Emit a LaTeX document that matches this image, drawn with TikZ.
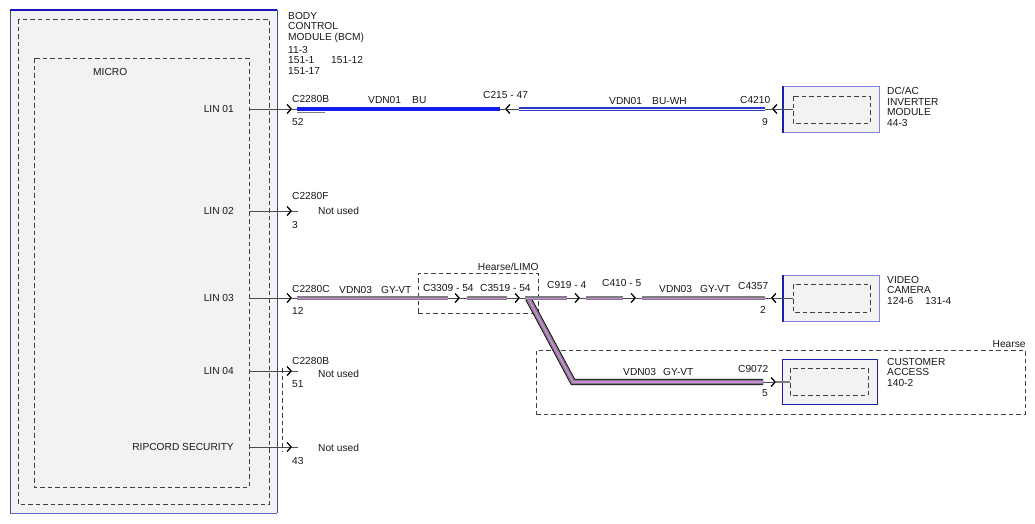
\documentclass[tikz,border=0pt]{standalone}
\usepackage{fontspec}
\setmainfont{Liberation Sans}
\usetikzlibrary{arrows.meta,positioning}
\definecolor{wireblue}{RGB}{20,30,235}
\definecolor{buwhblue}{RGB}{40,60,200}
\definecolor{wiregray}{RGB}{125,125,125}
\definecolor{wirevt}{RGB}{205,135,225}
\definecolor{boxfill}{RGB}{242,242,242}
\definecolor{edgeblue}{RGB}{130,130,225}
\definecolor{darkblue}{RGB}{30,30,170}

\begin{document}
\begin{tikzpicture}[x=1pt,y=-1pt,
  font=\fontsize{10.2}{10.6}\selectfont,
  txt/.style={inner sep=0pt,anchor=west,text=black!90},
  pinline/.style={draw=black!70,line width=0.7pt},
  conn/.style={pinline,-{Straight Barb[length=4pt,width=9pt,line width=1.3pt,color=black]}},
  bu/.style={draw=wireblue,line width=4pt},
  buwh/.style={draw=buwhblue,line width=1.8pt,double=white,double distance=0.8pt},
  gyvt/.style={draw=wiregray,line width=2pt,double=wirevt,double distance=0.8pt},
  dbox/.style={draw=black!75,dash pattern=on 4.5pt off 3pt,line width=0.75pt},
  modbox/.style={draw=edgeblue,fill=boxfill,line width=0.8pt,anchor=north west}]
  \useasboundingbox (0,0) rectangle (1035,523);
  \fill[white] (0,0) rectangle (1035,523);

  % body control module
  \node[fill=boxfill,minimum width=267,minimum height=503,anchor=north west,inner sep=0pt] (bcm) at (10,10) {};
  \draw[draw=black!45!edgeblue,line width=0.6pt] (bcm.north west) -- (bcm.south west) (bcm.north east) -- (bcm.south east);
  \draw[draw=darkblue!80!blue,line width=1.6pt] (bcm.north west) -- (bcm.north east);
  \draw[draw=edgeblue!70!darkblue,line width=1.6pt] (bcm.south west) -- (bcm.south east);
  \draw[dbox] (18,19) rectangle (269,504);
  \draw[dbox] (34,58) rectangle (249,487);
  \node[txt] (micro) at (93,72) {MICRO};
  \node[txt,anchor=north west,align=left] (bcmname) at (288,12) {BODY\\CONTROL\\MODULE (BCM)};
  \node[txt,below=3pt of bcmname.south west,anchor=north west,align=left] (bcmref) {11-3\\\makebox[43pt][l]{151-1}151-12\\151-17};

  % pins
  \foreach \name/\txt/\y in {lin01/LIN 01/109,lin02/LIN 02/211,lin03/LIN 03/298,lin04/LIN 04/371,rip/RIPCORD SECURITY/447}{
    \node[txt,anchor=east] (\name) at (234,\y) {\txt};
    \coordinate (\name p) at (249,\y);
    \coordinate (\name c) at (292,\y);
    \coordinate (\name s) at (298,\y);
    \draw[conn] (\name p) -- (\name c);
    \draw[pinline] (\name c) -- (\name s);
  }
  \draw[dbox] (282,368) -- (282,451);

  % LIN 01 to inverter
  \node[modbox,minimum width=96,minimum height=46] (inv) at (783,86) {};
  \draw[draw=darkblue,line width=1.6pt] (inv.north west) -- (inv.south west);
  \draw[dbox] (793,96) rectangle (870,123);
  \node[txt,anchor=north west,align=left] (invname) at (887,87) {DC/AC\\INVERTER\\MODULE\\44-3};
  \coordinate (bu1) at (297,109);
  \coordinate (bu2) at (500,109);
  \coordinate (c215) at (505,109);
  \coordinate (bw1) at (519,109);
  \coordinate (bw2) at (765,109);
  \coordinate (c4210) at (772,109);
  \coordinate (invin) at (793,109);
  \draw[bu] (bu1) -- (bu2);
  \draw[draw=wiregray,line width=1.2pt] (297,112.5) -- (325,112.5);
  \draw[pinline] (bu2) -- (c215);
  \draw[conn] (bw1) -- (c215);
  \draw[buwh] (bw1) -- (bw2);
  \draw[pinline] (bw2) -- (c4210);
  \draw[conn] (invin) -- (c4210);
  \node[txt] at (292,99) {C2280B};
  \node[txt] at (292,122) {52};
  \node[txt] at (368,100) {VDN01};
  \node[txt] at (412,100) {BU};
  \node[txt] at (483,95) {C215 - 47};
  \node[txt] at (609,101) {VDN01};
  \node[txt] at (652,101) {BU-WH};
  \node[txt] at (740,100) {C4210};
  \node[txt] at (762,122) {9};

  % LIN 02
  \node[txt] at (292,196) {C2280F};
  \node[txt] at (318,211) {Not used};
  \node[txt] at (292,225) {3};

  % LIN 03 to camera and customer access
  \node[dbox,minimum width=120,minimum height=40,anchor=north west] (limo) at (418,273) {};
  \node[txt,anchor=south east] at ([yshift=2pt]limo.north east) {Hearse/LIMO};
  \node[dbox,minimum width=489,minimum height=64,anchor=north west] (hearse) at (536,350) {};
  \node[txt,anchor=south east] at ([yshift=2pt]hearse.north east) {Hearse};
  \node[modbox,minimum width=96,minimum height=46] (cam) at (783,275) {};
  \draw[draw=darkblue,line width=1.6pt] (cam.north west) -- (cam.south west);
  \draw[dbox] (793,284) rectangle (870,312);
  \node[txt,anchor=north west,align=left] (camname) at (887,276) {VIDEO\\CAMERA\\\makebox[38pt][l]{124-6}131-4};
  \node[modbox,draw=darkblue,minimum width=95,minimum height=45] (cust) at (782,359) {};
  \draw[dbox] (790,368) rectangle (868,395);
  \node[txt,anchor=north west,align=left] (custname) at (887,358) {CUSTOMER\\ACCESS\\140-2};

  \coordinate (g1) at (297,298);
  \coordinate (g2) at (448,298);
  \coordinate (c3309) at (460,298);
  \coordinate (g3) at (467,298);
  \coordinate (g4) at (507,298);
  \coordinate (c3519) at (520,298);
  \coordinate (g5) at (525,298);
  \coordinate (split) at (528,298);
  \coordinate (g6) at (567,298);
  \coordinate (c919) at (580,298);
  \coordinate (g7) at (586,298);
  \coordinate (g8) at (623,298);
  \coordinate (c410) at (636,298);
  \coordinate (g9) at (642,298);
  \coordinate (g10) at (765,298);
  \coordinate (c4357) at (771,298);
  \coordinate (camin) at (793,298);
  \coordinate (bend) at (573,382);
  \coordinate (h1) at (763,382);
  \coordinate (c9072) at (776,382);
  \coordinate (custin) at (790,382);

  \draw[draw=black,line width=6.4pt,line join=miter] (split) -- (bend) -- (h1);
  \draw[gyvt,line width=1.5pt,double distance=1.8pt,line join=miter] (split) -- (bend) -- (h1);
  \draw[gyvt] (g1) -- (g2);
  \draw[conn] (g2) -- (c3309);
  \draw[pinline] (c3309) -- (g3);
  \draw[gyvt] (g3) -- (g4);
  \draw[conn] (g4) -- (c3519);
  \draw[pinline] (c3519) -- (g5);
  \draw[gyvt] (g5) -- (g6);
  \draw[conn] (g6) -- (c919);
  \draw[pinline] (c919) -- (g7);
  \draw[gyvt] (g7) -- (g8);
  \draw[conn] (g8) -- (c410);
  \draw[pinline] (c410) -- (g9);
  \draw[gyvt] (g9) -- (g10);
  \draw[pinline] (g10) -- (c4357);
  \draw[conn] (camin) -- (c4357);
  \draw[conn] (h1) -- (c9072);
  \draw[draw=wiregray,line width=1.5pt] (c9072) -- (custin);

  \node[txt] at (292,289) {C2280C};
  \node[txt] at (339,290) {VDN03};
  \node[txt] at (381,290) {GY-VT};
  \node[txt] at (292,311) {12};
  \node[txt] at (423,288) {C3309 - 54};
  \node[txt] at (480,288) {C3519 - 54};
  \node[txt] at (547,285) {C919 - 4};
  \node[txt] at (602,283) {C410 - 5};
  \node[txt] at (659,289) {VDN03};
  \node[txt] at (700,289) {GY-VT};
  \node[txt] at (738,286) {C4357};
  \node[txt] at (760,310) {2};
  \node[txt] at (623,372) {VDN03};
  \node[txt] at (663,372) {GY-VT};
  \node[txt] at (738,369) {C9072};
  \node[txt] at (762,393) {5};

  % LIN 04 and ripcord
  \node[txt] at (292,361) {C2280B};
  \node[txt] at (318,374) {Not used};
  \node[txt] at (292,384) {51};
  \node[txt] at (318,448) {Not used};
  \node[txt] at (292,461) {43};
\end{tikzpicture}
\end{document}
